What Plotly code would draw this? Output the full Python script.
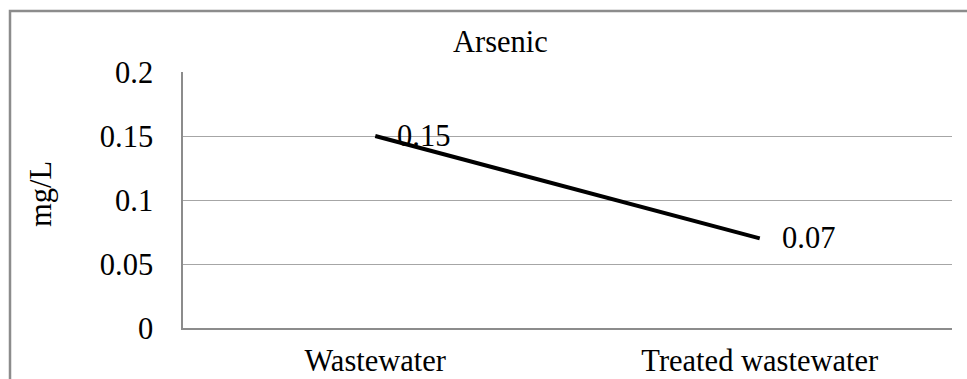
import plotly.graph_objects as go

categories = ["Wastewater", "Treated wastewater"]
values = [0.15, 0.07]
value_labels = ["0.15", "0.07"]
y_ticks = [0, 0.05, 0.1, 0.15, 0.2]
y_tick_labels = ["0", "0.05", "0.1", "0.15", "0.2"]
chart_title = "Arsenic"
y_title = "mg/L"

FONT = "Liberation Serif"
FS = 30.5
W, H = 967, 379
L, R, T, B = 183, 15, 72, 51
pw, ph = W - L - R, H - T - B

def px_x(p):
    return (p - L) / pw

def px_y(p):
    return (H - B - p) / ph

fig = go.Figure()
fig.add_trace(go.Scatter(
    x=list(range(len(categories))), y=values, mode="lines",
    line=dict(color="#000000", width=4), showlegend=False, hoverinfo="skip",
))

annotations = []
for i, (v, lab) in enumerate(zip(values, value_labels)):
    annotations.append(dict(x=i, y=v, xref="x", yref="y", text=lab, showarrow=False,
                            xanchor="left", yanchor="middle", xshift=20, yshift=0,
                            font=dict(family=FONT, size=FS, color="#000000")))
annotations.append(dict(x=px_x(41), y=px_y(194), xref="paper", yref="paper", text=y_title,
                        textangle=-90, showarrow=False, xanchor="center", yanchor="middle",
                        font=dict(family=FONT, size=FS, color="#000000")))
annotations.append(dict(x=px_x(500), y=px_y(42), xref="paper", yref="paper", text=chart_title,
                        showarrow=False, xanchor="center", yanchor="middle",
                        font=dict(family=FONT, size=FS, color="#000000")))

fig.update_layout(
    template="none",
    width=W, height=H, autosize=False,
    margin=dict(l=L, r=R, t=T, b=B, pad=0, autoexpand=False),
    paper_bgcolor="white", plot_bgcolor="white",
    font=dict(family=FONT, size=FS, color="#000000"),
    annotations=annotations,
    shapes=[dict(type="rect", xref="paper", yref="paper",
                 x0=px_x(10), x1=px_x(990), y0=px_y(400), y1=px_y(11),
                 line=dict(color="#8c8c8c", width=2.5), fillcolor="rgba(0,0,0,0)", layer="below")],
    xaxis=dict(
        range=[-0.5, len(categories) - 0.5], automargin=False,
        tickmode="array", tickvals=list(range(len(categories))), ticktext=categories,
        showgrid=False, zeroline=False, showline=True, linecolor="#8c8c8c", linewidth=1.5,
        ticks="", ticklabelstandoff=5,
        tickfont=dict(family=FONT, size=FS, color="#000000"),
        fixedrange=True,
    ),
    yaxis=dict(
        range=[0, 0.2], automargin=False,
        tickmode="array", tickvals=y_ticks, ticktext=y_tick_labels,
        showgrid=True, gridcolor="#a6a6a6", gridwidth=1.2,
        zeroline=False, showline=True, linecolor="#8c8c8c", linewidth=1.5,
        ticks="", ticklabelstandoff=22,
        tickfont=dict(family=FONT, size=FS, color="#000000"),
        fixedrange=True,
    ),
)

fig.write_html(
    "out.html",
    config={"responsive": False, "displayModeBar": False},
    default_width=f"{W}px", default_height=f"{H}px",
    post_script="document.body.style.margin='0';document.body.style.overflow='hidden';",
)
